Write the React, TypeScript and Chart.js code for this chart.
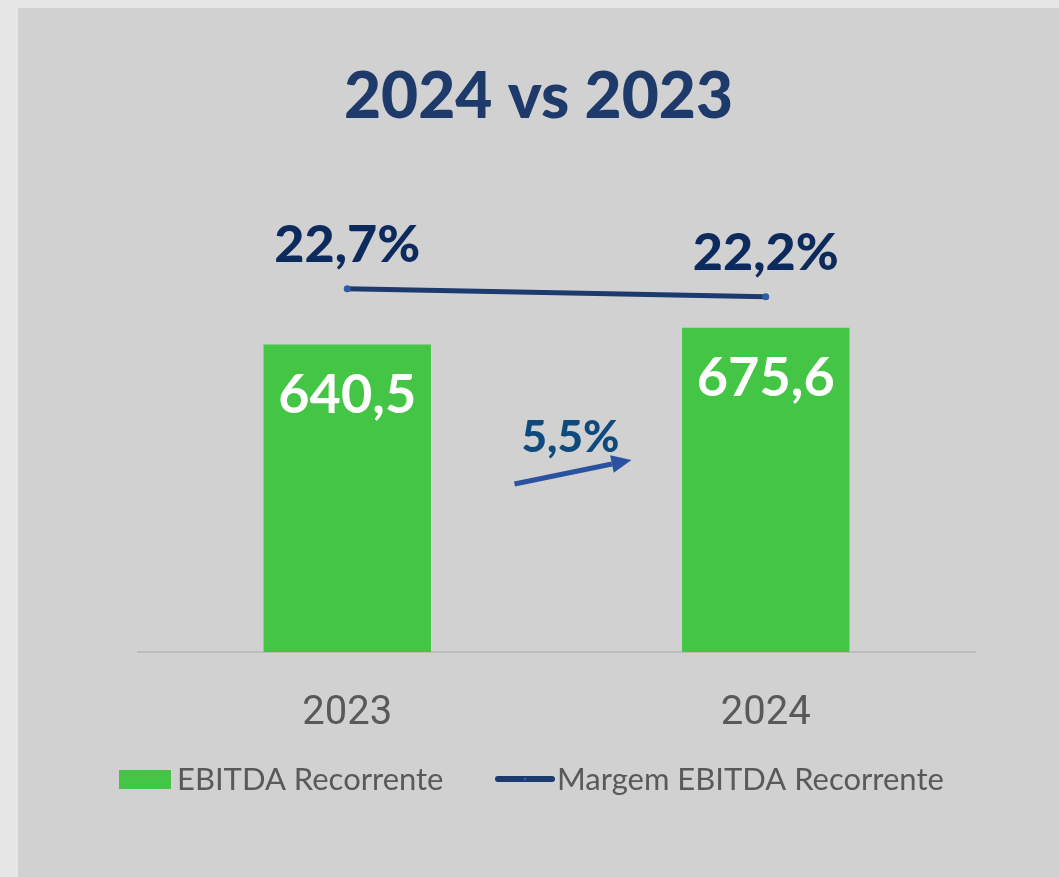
import React, { useEffect, useRef } from "react";
import { Chart, registerables } from "chart.js";

Chart.register(...registerables);

const categories = ["2023", "2024"];
const ebitdaValues = [640.5, 675.6];
const marginValues = [22.7, 22.2];
const growthLabel = "5,5%";
const titleText = "2024 vs 2023";
const legendBarLabel = "EBITDA Recorrente";
const legendLineLabel = "Margem EBITDA Recorrente";

const fmt = (v: number) => v.toFixed(1).replace(".", ",");

const W = 1059;
const H = 877;

export default function App() {
  const ref = useRef<HTMLCanvasElement | null>(null);

  useEffect(() => {
    const canvas = ref.current;
    if (!canvas) return;

    const bgPlugin = {
      id: "bgPlugin",
      beforeDraw(chart: any) {
        const ctx = chart.ctx;
        ctx.save();
        ctx.fillStyle = "#e6e6e6";
        ctx.fillRect(0, 0, W, H);
        ctx.fillStyle = "#d1d1d1";
        ctx.fillRect(18, 8, W - 18, H - 8);
        ctx.restore();
      },
    };

    const labelsPlugin = {
      id: "labelsPlugin",
      afterDatasetsDraw(chart: any) {
        const ctx = chart.ctx;
        ctx.save();
        // title
        ctx.fillStyle = "#1e3a6a";
        ctx.font = "900 64px Lato";
        ctx.textAlign = "center";
        ctx.textBaseline = "alphabetic";
        ctx.fillText(titleText, (18 + W) / 2, 118);

        // bar values
        const barMeta = chart.getDatasetMeta(0);
        ctx.fillStyle = "#ffffff";
        ctx.font = "bold 54px Lato";
        barMeta.data.forEach((el: any, i: number) => {
          ctx.fillText(fmt(ebitdaValues[i]), el.x, el.y + 68);
        });

        // line values
        const lineMeta = chart.getDatasetMeta(1);
        ctx.fillStyle = "#0d2a5c";
        ctx.font = "900 52px Lato";
        lineMeta.data.forEach((el: any, i: number) => {
          ctx.fillText(fmt(marginValues[i]) + "%", el.x, el.y - 27);
        });

        // growth arrow
        const xs = chart.scales.x;
        const midX = (xs.getPixelForValue(0) + xs.getPixelForValue(1)) / 2;
        const x0 = midX - 42;
        const y0 = 484;
        const x1 = midX + 75;
        const y1 = 460;
        const ang = Math.atan2(y1 - y0, x1 - x0);
        const headLen = 20;
        const headW = 9;
        const bx = x1 - headLen * Math.cos(ang);
        const by = y1 - headLen * Math.sin(ang);
        ctx.strokeStyle = "#2a52a0";
        ctx.fillStyle = "#2a52a0";
        ctx.lineWidth = 5;
        ctx.beginPath();
        ctx.moveTo(x0, y0);
        ctx.lineTo(bx, by);
        ctx.stroke();
        ctx.beginPath();
        ctx.moveTo(x1, y1);
        ctx.lineTo(bx + headW * Math.sin(ang), by - headW * Math.cos(ang));
        ctx.lineTo(bx - headW * Math.sin(ang), by + headW * Math.cos(ang));
        ctx.closePath();
        ctx.fill();

        ctx.fillStyle = "#0e4a7e";
        ctx.font = "900 44px Lato";
        ctx.fillText(growthLabel, midX + 14, 452);

        // legend
        ctx.textAlign = "left";
        ctx.fillStyle = "#45c545";
        ctx.fillRect(119, 770, 52, 19);
        ctx.fillStyle = "#595959";
        ctx.font = "31px Lato";
        ctx.fillText(legendBarLabel, 177, 790);
        ctx.strokeStyle = "#1c3a6e";
        ctx.lineWidth = 6;
        ctx.lineCap = "round";
        ctx.beginPath();
        ctx.moveTo(498, 779);
        ctx.lineTo(552, 779);
        ctx.stroke();
        ctx.fillStyle = "#2f5aa5";
        ctx.beginPath();
        ctx.arc(525, 779, 1.5, 0, Math.PI * 2);
        ctx.fill();
        ctx.fillStyle = "#595959";
        ctx.fillText(legendLineLabel, 557, 790);
        ctx.restore();
      },
    };

    const chart = new Chart(canvas, {
      type: "bar",
      data: {
        labels: categories,
        datasets: [
          {
            type: "bar",
            label: legendBarLabel,
            data: ebitdaValues,
            backgroundColor: "#45c545",
            barPercentage: 0.4,
            categoryPercentage: 1,
            yAxisID: "y",
            order: 2,
          },
          {
            type: "line",
            label: legendLineLabel,
            data: marginValues,
            borderColor: "#1c3a6e",
            borderWidth: 5,
            borderCapStyle: "round",
            pointRadius: 3.5,
            pointBackgroundColor: "#2f5aa5",
            pointBorderWidth: 0,
            yAxisID: "y1",
            order: 1,
          } as any,
        ],
      },
      options: {
        responsive: false,
        animation: false,
        layout: { padding: { left: 138, right: 84, top: 172, bottom: 125 } },
        plugins: {
          legend: { display: false },
          tooltip: { enabled: false },
          title: { display: false },
        },
        scales: {
          x: {
            grid: { display: false, drawTicks: false },
            border: { display: true, color: "#bdbdbd", width: 2 },
            ticks: {
              color: "#595959",
              font: { family: "Roboto", size: 40 },
              padding: 38,
            },
            afterFit: (s: any) => {
              s.height = 100;
            },
          },
          y: {
            display: false,
            min: 0,
            max: 1000,
          },
          y1: {
            display: false,
            min: 0,
            max: 30,
          },
        },
      },
      plugins: [bgPlugin, labelsPlugin],
    });

    return () => chart.destroy();
  }, []);

  return (
    <div style={{ position: "fixed", left: 0, top: 0, width: W, height: H }}>
      <canvas ref={ref} width={W} height={H} style={{ width: W, height: H, display: "block" }} />
    </div>
  );
}
